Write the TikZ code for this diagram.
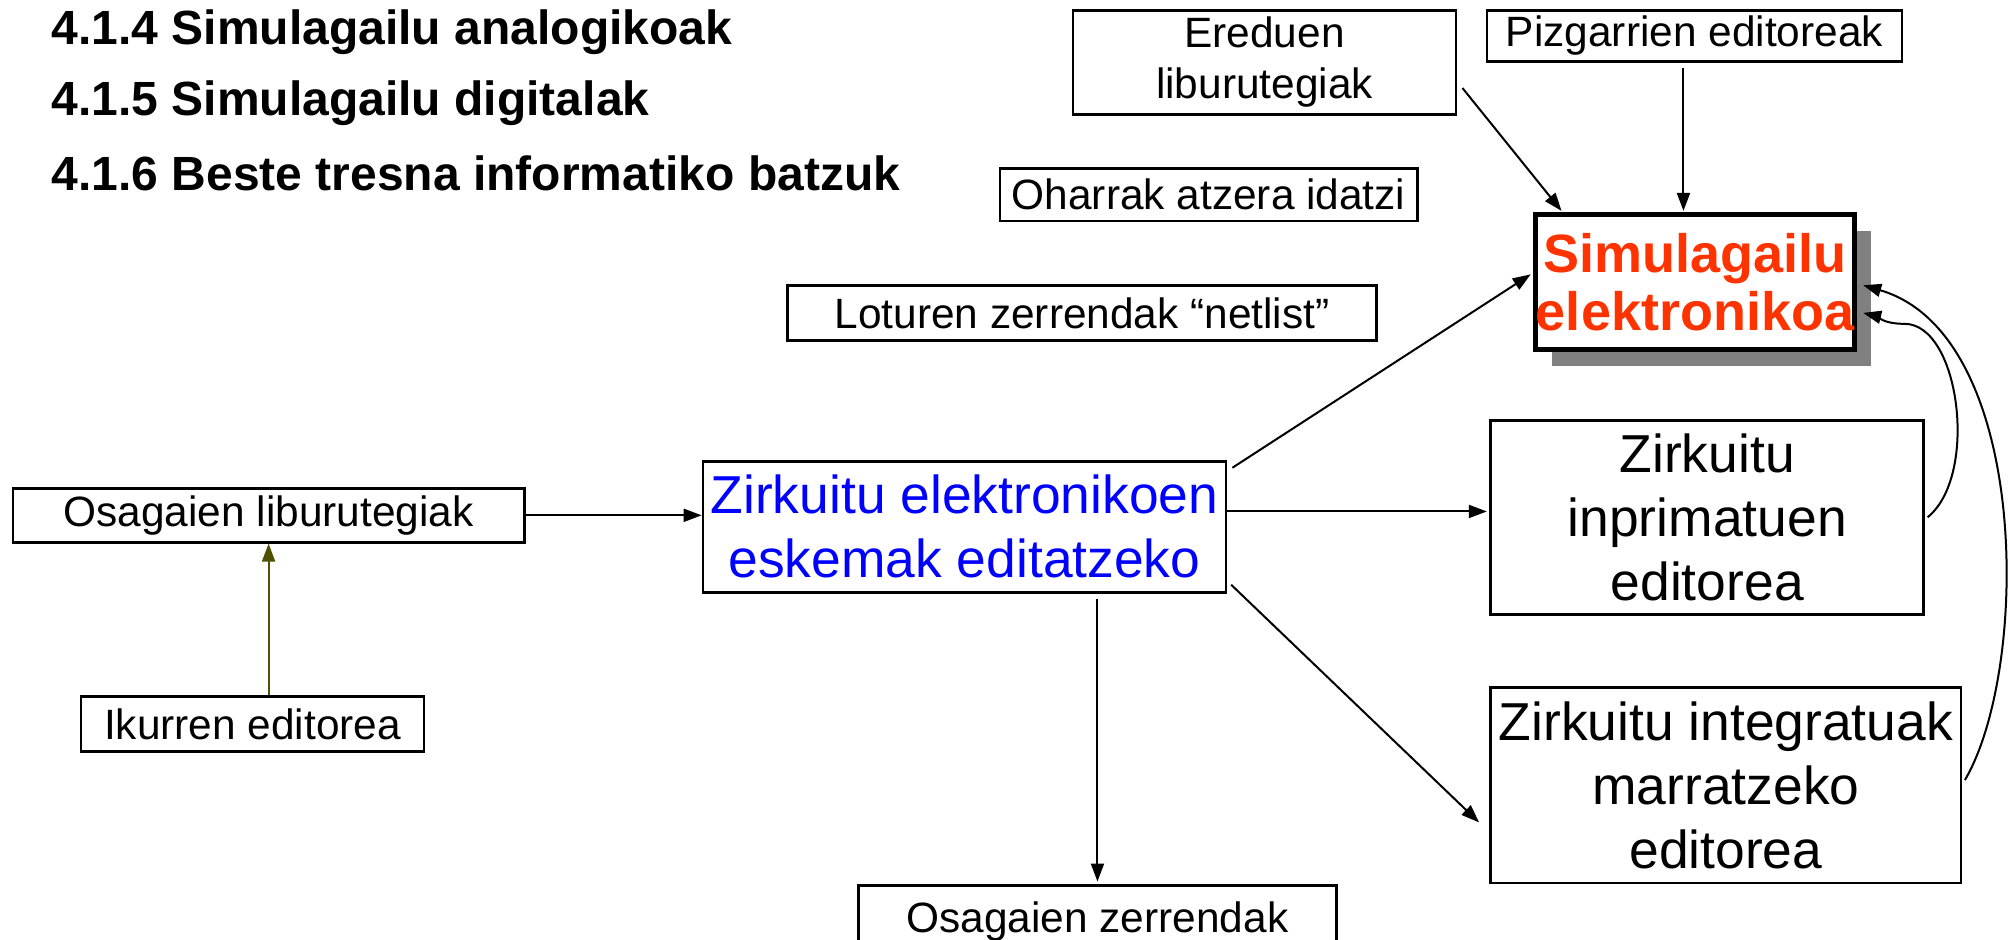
\documentclass[tikz,border=0pt]{standalone}
\usepackage{fontspec}
\setmainfont{Liberation Sans}
\usetikzlibrary{arrows.meta,calc}
\newcommand\fsm{\fontsize{21.2pt}{25.7pt}\selectfont}
\newcommand\fbg{\fontsize{26.7pt}{32pt}\selectfont}
\newcommand\fsim{\fontsize{27pt}{29pt}\selectfont\bfseries}
\newcommand\ftl{\fontsize{24pt}{28pt}\selectfont\bfseries}
\definecolor{simred}{RGB}{255,51,0}
\definecolor{olivearr}{RGB}{80,80,0}
\definecolor{shadowgray}{RGB}{128,128,128}
\begin{document}
\begin{tikzpicture}[x=0.6425pt,y=-0.6425pt,
  bx/.style={draw, line width=1.3pt, inner sep=0pt, align=center, font=\fsm, fill=white},
  bigbx/.style={bx, font=\fbg},
  arr/.style={line width=1pt, -{Triangle[length=9pt,width=6.5pt]}},
  ttl/.style={anchor=west, inner sep=0pt, font=\ftl}]
\clip (0,0) rectangle (1568,731);
\fill[white] (0,0) rectangle (1568,731);
% titles
\node[ttl] (t1) at (40,25) {4.1.4 Simulagailu analogikoak};
\node[ttl] (t2) at (40,80) {4.1.5 Simulagailu digitalak};
\node[ttl] (t3) at (40,135) {4.1.6 Beste tresna informatiko batzuk};
% boxes
\node[bx, minimum width=298*0.6425pt, minimum height=81*0.6425pt] (ered) at (984,48.5) {Ereduen\\liburutegiak};
\node[bx, minimum width=323*0.6425pt, minimum height=40*0.6425pt] (pizg) at (1318.5,28) {Pizgarrien editoreak};
\node[bx, minimum width=325*0.6425pt, minimum height=41*0.6425pt] (ohar) at (940.5,151.5) {Oharrak atzera idatzi};
\node[bx, minimum width=458*0.6425pt, minimum height=43*0.6425pt] (lotu) at (842,243.5) {Loturen zerrendak “netlist”};
\fill[shadowgray] (1208,180) rectangle (1456,285);
\node[bx, line width=2.4pt, font=\fsim, text=simred, minimum width=248*0.6425pt, minimum height=105*0.6425pt] (sim) at (1319,219.5) {Simulagailu\\elektronikoa};
\node[bx, minimum width=398*0.6425pt, minimum height=42*0.6425pt] (osag) at (209,401) {Osagaien liburutegiak};
\node[bx, minimum width=267*0.6425pt, minimum height=43*0.6425pt] (ikur) at (196.5,563.5) {Ikurren editorea};
\node[bigbx, text=blue, minimum width=407*0.6425pt, minimum height=102*0.6425pt] (zirk) at (750.5,410) {Zirkuitu elektronikoen\\eskemak editatzeko};
\node[bigbx, minimum width=337*0.6425pt, minimum height=151*0.6425pt] (inpr) at (1328.5,402.5) {Zirkuitu\\inprimatuen\\editorea};
\node[bigbx, minimum width=366*0.6425pt, minimum height=152*0.6425pt] (inte) at (1343,611) {Zirkuitu integratuak\\marratzeko\\editorea};
\node[bx, minimum width=372*0.6425pt, minimum height=60*0.6425pt, text depth=0pt] (ozer) at (854,719) {\raisebox{6.5pt}{Osagaien zerrendak}};
% connectors
\draw[arr] (osag.east) -- (zirk.west |- osag.east);
\draw[arr, draw=olivearr, fill=olivearr] (ikur.north -| osag.south) -- (osag.south);
\draw[arr] ($(zirk.east)+(0,-12)$) -- ($(inpr.west)+(-2,-4.5)$);
\draw[arr] ($(zirk.south -| ozer.north)+(0,4)$) -- ($(ozer.north)+(0,-2)$);
\draw[arr] ($(zirk.east)+(3,45)$) -- ($(inte.west)+(-8,29)$);
\draw[arr] ($(zirk.north east)+(4,6)$) -- ($(sim.west)+(-2,-6)$);
\draw[arr] ($(ered.east)+(4,20)$) -- ($(sim.north west)+(22,-1)$);
\draw[arr] ($(pizg.south)+(-8.5,4)$) -- ($(sim.north)+(-9,-1)$);
\draw[arr] ($(inpr.east)+(2,0)$) .. controls (1540,370) and (1525,252) .. (1482,252) .. controls (1465,252) and (1460,246) .. ($(sim.east)+(5,24)$);
\draw[arr] ($(inte.east)+(2,-4)$) .. controls (1580,520) and (1580,260) .. ($(sim.east)+(5,2.5)$);
\end{tikzpicture}
\end{document}
